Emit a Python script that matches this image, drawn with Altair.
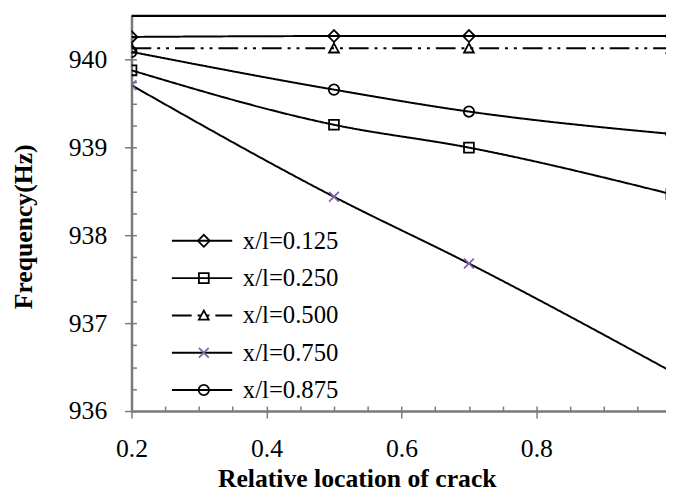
import altair as alt
import pandas as pd

# ---- data ----
crack_loc = [0.2, 0.5, 0.7, 1.0]
series_names = ["x/l=0.125", "x/l=0.250", "x/l=0.500", "x/l=0.750", "x/l=0.875"]
f_0125 = [940.26, 940.27, 940.27, 940.27]
f_0250 = [939.88, 939.26, 939.00, 938.47]
f_0500 = [940.13, 940.13, 940.13, 940.13]
f_0750 = [939.71, 938.44, 937.68, 936.45]
f_0875 = [940.09, 939.66, 939.41, 939.155]

x_major = [0.2, 0.4, 0.6, 0.8]
x_minor = [0.2, 0.25, 0.3, 0.35, 0.4, 0.45, 0.5, 0.55, 0.6, 0.65, 0.7, 0.75, 0.8, 0.85, 0.9, 0.95]
y_major = [936, 937, 938, 939, 940]
y_minor = [936, 936.25, 936.5, 936.75, 937, 937.25, 937.5, 937.75, 938, 938.25,
           938.5, 938.75, 939, 939.25, 939.5, 939.75, 940, 940.25]
top_value = [940.5]

rows = []
for name, vals in zip(series_names, [f_0125, f_0250, f_0500, f_0750, f_0875]):
    for xv, yv in zip(crack_loc, vals):
        rows.append({"loc": xv, "freq": yv, "series": name, "s2": name})
df = pd.DataFrame(rows)
top_df = pd.DataFrame({"top": top_value})

FONT = "Liberation Serif"
AX = "#7a7a7a"

x_scale = alt.Scale(domain=[0.2, 0.992], nice=False, zero=False)
y_scale = alt.Scale(domain=[936, 940.5], nice=False, zero=False)

LX, LY = 60.7, 215.2

legend_lines = alt.Legend(
    orient="none", legendX=LX, legendY=LY, title=None, direction="vertical",
    symbolType="M-6.16,0H5.48", symbolSize=110, symbolStrokeWidth=2,
    symbolStrokeColor="black",
    labelFont=FONT, labelFontSize=25, labelColor="black", labelOffset=27,
    rowPadding=11.75, padding=0,
)
legend_marks = alt.Legend(
    orient="none", legendX=LX, legendY=LY, title=None, direction="vertical",
    symbolSize=110, symbolStrokeWidth=1.8,
    labelFont=FONT, labelFontSize=25, labelOpacity=0, labelOffset=27,
    rowPadding=11.75, padding=0,
)

lines = alt.Chart(df).mark_line(
    color="black", strokeWidth=2, interpolate="monotone", clip=True
).encode(
    x=alt.X("loc:Q", scale=x_scale, axis=alt.Axis(
        values=x_major, format=".1f", labelFont=FONT, labelFontSize=26,
        labelColor="black", labelFlush=False, labelOverlap=False,
        labelBaseline="alphabetic", labelPadding=39,
        tickSize=7, tickColor=AX, tickWidth=1.5,
        domainColor=AX, domainWidth=2.5, grid=False,
        title="Relative location of crack", titleFont=FONT, titleFontSize=26,
        titleFontWeight="bold", titleColor="black", titleX=228, titleY=76,
        titleBaseline="alphabetic", titleAlign="center",
    )),
    y=alt.Y("freq:Q", scale=y_scale, axis=alt.Axis(
        values=y_major, format="d", labelFont=FONT, labelFontSize=26,
        labelColor="black", labelFlush=False, labelOverlap=False,
        labelAlign="right", labelPadding=18, tickSize=7, tickColor=AX, tickWidth=1.5,
        domainColor=AX, domainWidth=2.5, grid=False,
        title="Frequency(Hz)", titleFont=FONT, titleFontSize=26,
        titleFontWeight="bold", titleColor="black", titleX=-101, titleY=213,
        titleAngle=270, titleBaseline="alphabetic", titleAlign="center",
    )),
    strokeDash=alt.StrokeDash("s2:N", scale=alt.Scale(
        range=[[1, 0], [1, 0], [20, 6, 3, 6, 3, 6], [1, 0], [1, 0]]),
        legend=legend_lines),
)

shape_paths = [
    "M-1.15,0L0,-1.15L1.15,0L0,1.15Z",
    "M-0.95,-0.95H0.95V0.95H-0.95Z",
    "M0,-0.95L0.95,0.8H-0.95Z",
    "M-0.95,-0.95L0.95,0.95M0.95,-0.95L-0.95,0.95",
    "circle",
]
marker_colors = ["black", "black", "black", "#8064a2", "black"]

markers = alt.Chart(df).mark_point(
    filled=False, size=110, strokeWidth=1.8, opacity=1, clip=True
).encode(
    x=alt.X("loc:Q", scale=x_scale, axis=alt.Axis(
        orient="bottom", values=x_minor, offset=-5, tickSize=5, tickColor=AX,
        tickWidth=1.5, domain=False, labels=False, grid=False, title=None,
    )),
    y=alt.Y("freq:Q", scale=y_scale, axis=alt.Axis(
        orient="left", values=y_minor, offset=-5, tickSize=5, tickColor=AX,
        tickWidth=1.5, domain=False, labels=False, grid=False, title=None,
    )),
    shape=alt.Shape("series:N", scale=alt.Scale(range=shape_paths), legend=legend_marks),
    color=alt.Color("series:N", scale=alt.Scale(range=marker_colors), legend=legend_marks),
)

top_line = alt.Chart(top_df).mark_rule(color="black", strokeWidth=2.5).encode(
    y=alt.Y("top:Q", scale=y_scale, axis=None),
)

chart = alt.layer(lines, markers, top_line).resolve_axis(
    x="independent", y="independent"
).properties(
    width=541, height=400,
    padding={"left": 125, "top": 5, "right": 0, "bottom": 82},
    autosize=alt.AutoSizeParams(type="none"),
).configure_view(stroke=None)

chart.save("out.html", embed_options={"renderer": "svg", "actions": False})
